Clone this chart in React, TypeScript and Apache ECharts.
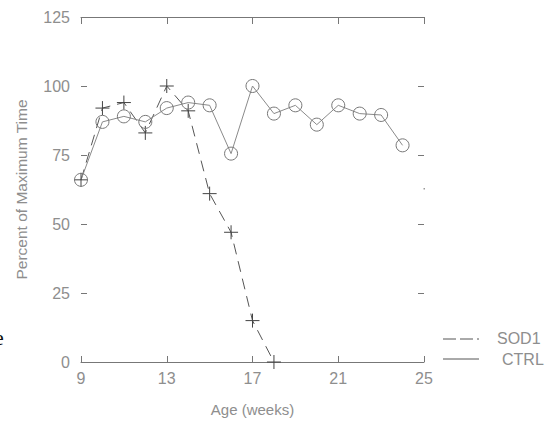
import React, { useEffect, useRef } from "react";
import * as echarts from "echarts";

const weeks = [9, 10, 11, 12, 13, 14, 15, 16, 17, 18, 19, 20, 21, 22, 23, 24];
const ctrl = [66, 87, 89, 87, 92, 94, 93, 75.5, 100, 90, 93, 86, 93, 90, 89.5, 78.5];
const sodWeeks = [9, 10, 11, 12, 13, 14, 15, 16, 17, 18];
const sod1 = [66, 92, 94, 83, 100, 91, 61, 47, 15, 0];
const xTicks = [9, 13, 17, 21, 25];
const yLabels = [0, 25, 50, 75, 100, 125];
const yInnerTicks = [25, 50, 75, 100];

const FONT = "'Liberation Sans', Arial, sans-serif";
const GREY = "#8e8e8e";

export default function App() {
  const ref = useRef<HTMLDivElement>(null);
  useEffect(() => {
    if (!ref.current) return;
    const chart = echarts.init(ref.current, undefined, { renderer: "svg" });
    const plus = "path://M0,7L14,7M7,0L7,14";
    chart.setOption({
      animation: false,
      backgroundColor: "#ffffff",
      grid: { left: 81, right: 134, top: 17, bottom: 61 },
      xAxis: [
        {
          type: "value",
          min: 9,
          max: 25,
          position: "bottom",
          name: "Age (weeks)",
          nameLocation: "middle",
          nameGap: 40,
          nameTextStyle: { color: GREY, fontFamily: FONT, fontSize: 15 },
          axisLine: { show: true, onZero: false, lineStyle: { color: "#777", width: 1 } },
          axisTick: { show: true, inside: true, length: 6, customValues: xTicks, lineStyle: { color: "#777" } },
          axisLabel: { customValues: xTicks, color: GREY, fontFamily: FONT, fontSize: 16, margin: 8 },
          splitLine: { show: false },
        },
        {
          type: "value",
          min: 9,
          max: 25,
          position: "top",
          axisLine: { show: true, onZero: false, lineStyle: { color: "#777", width: 1 } },
          axisTick: { show: true, inside: true, length: 7, customValues: xTicks, lineStyle: { color: "#777" } },
          axisLabel: { show: false },
          splitLine: { show: false },
        },
      ],
      yAxis: [
        {
          type: "value",
          min: 0,
          max: 125,
          position: "left",
          name: "Percent of Maximum Time",
          nameLocation: "middle",
          nameGap: 52,
          nameRotate: 90,
          nameTextStyle: { color: GREY, fontFamily: FONT, fontSize: 15.5 },
          axisLine: { show: false, onZero: false },
          axisTick: { show: true, inside: true, length: 6, customValues: yInnerTicks, lineStyle: { color: "#777" } },
          axisLabel: { customValues: yLabels, color: GREY, fontFamily: FONT, fontSize: 16, margin: 11 },
          splitLine: { show: false },
        },
        {
          type: "value",
          min: 0,
          max: 125,
          position: "right",
          axisLine: { show: false, onZero: false },
          axisTick: { show: true, inside: true, length: 6, customValues: yInnerTicks, lineStyle: { color: "#777" } },
          axisLabel: { show: false },
          splitLine: { show: false },
        },
      ],
      series: [
        {
          name: "SOD1",
          type: "line",
          data: sodWeeks.map((w, i) => [w, sod1[i]]),
          symbol: plus,
          symbolSize: 14,
          symbolKeepAspect: true,
          itemStyle: { color: "transparent", borderColor: "#444", borderWidth: 1 },
          lineStyle: { color: "#555", width: 1, type: [11, 7] },
        },
        {
          name: "CTRL",
          type: "line",
          data: weeks.map((w, i) => [w, ctrl[i]]),
          symbol: "circle",
          symbolSize: 13,
          itemStyle: { color: "transparent", borderColor: "#777", borderWidth: 1 },
          lineStyle: { color: "#8a8a8a", width: 1 },
        },
      ],
      graphic: [
        { type: "line", shape: { x1: 443, y1: 339, x2: 479, y2: 339 }, style: { stroke: "#555", lineWidth: 1, lineDash: [13, 4] } },
        { type: "text", x: 497, y: 338, style: { text: "SOD1", fill: GREY, font: `16px ${FONT}`, textVerticalAlign: "middle" } },
        { type: "line", shape: { x1: 443, y1: 359, x2: 479, y2: 359 }, style: { stroke: "#555", lineWidth: 1 } },
        { type: "text", x: 502, y: 359, style: { text: "CTRL", fill: GREY, font: `16px ${FONT}`, textVerticalAlign: "middle" } },
        { type: "text", x: -6, y: 348, style: { text: "e", fill: "#111", font: "22px 'Liberation Serif', serif", textVerticalAlign: "bottom" } },
        { type: "rect", shape: { x: 423.5, y: 188, width: 1.5, height: 1.5 }, style: { fill: "#999" } },
      ],
    });
    return () => chart.dispose();
  }, []);
  return <div ref={ref} style={{ width: 558, height: 423, position: "absolute", left: 0, top: 0 }} />;
}
